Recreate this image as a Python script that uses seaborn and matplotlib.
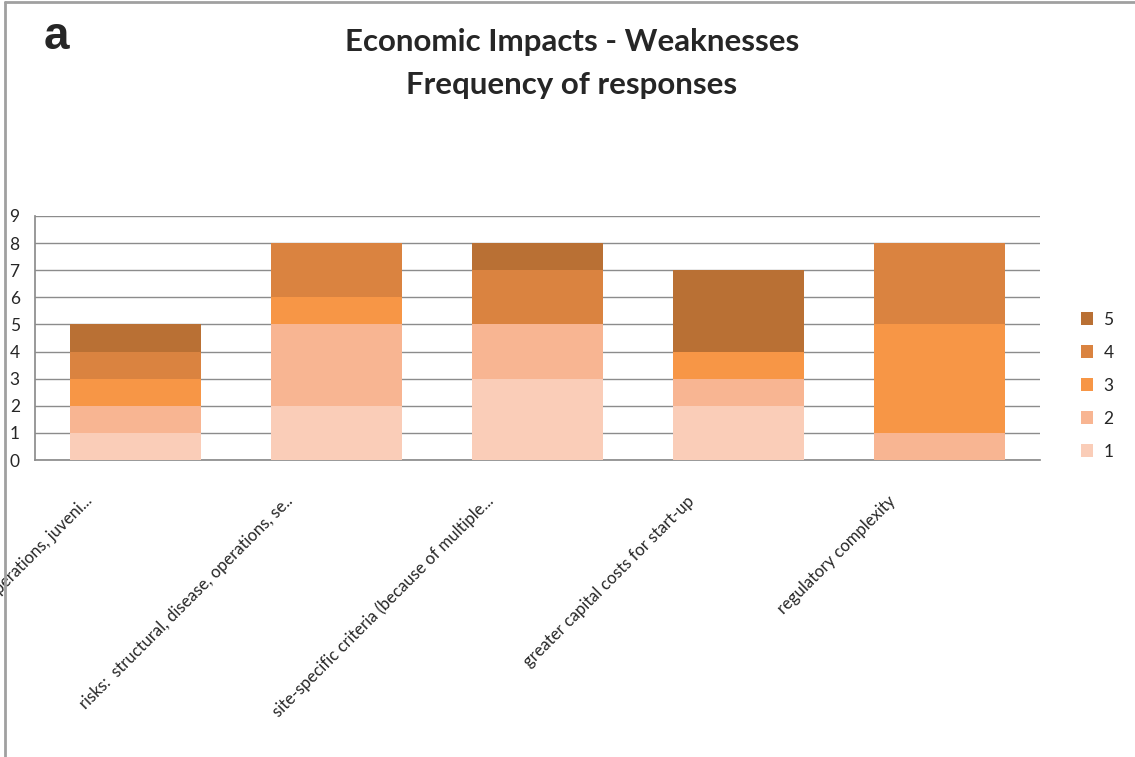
import numpy as np
import pandas as pd
import matplotlib
matplotlib.use("Agg")
import matplotlib.pyplot as plt
import matplotlib.transforms as mtransforms
from matplotlib.lines import Line2D
import seaborn as sns

categories = [
    "higher costs: infrastructure, operations, juveni...",
    "risks:  structural, disease, operations, se..",
    "site-specific criteria (because of multiple...",
    "greater capital costs for start-up",
    "regulatory complexity",
]
levels = ["1", "2", "3", "4", "5"]
resp_1 = [1, 2, 3, 2, 0]
resp_2 = [1, 3, 2, 1, 1]
resp_3 = [1, 1, 0, 1, 4]
resp_4 = [1, 2, 2, 0, 3]
resp_5 = [1, 0, 1, 3, 0]
colors = ["#FACDB8", "#F8B592", "#F79646", "#DA8340", "#B97034"]
yticks = list(range(0, 10))

sns.set_theme(style="white")
plt.rcParams["font.family"] = ["Lato", "DejaVu Sans"]

df = pd.DataFrame({"category": categories, "1": resp_1, "2": resp_2,
                   "3": resp_3, "4": resp_4, "5": resp_5})
cum = df[levels].cumsum(axis=1)

fig = plt.figure(figsize=(11.35, 7.57), dpi=100)
ax = fig.add_axes([35/1135, 1-460/757, (1040-35)/1135, (460-216)/757])

for lvl, col in reversed(list(zip(levels, colors))):
    d = pd.DataFrame({"category": categories, "value": cum[lvl]})
    sns.barplot(data=d, x="category", y="value", color=col, ax=ax,
                width=0.65, saturation=1, linewidth=0, label=lvl, zorder=3)

ax.set_ylim(0, 9)
ax.set_xlim(-0.5, 4.5)
ax.set_yticks(yticks)
ax.set_yticklabels([str(t) for t in yticks], fontsize=12.5)
ax.yaxis.grid(True, color="#8C8C8C", linewidth=1.0, zorder=0)
ax.set_axisbelow(True)
ax.set_xlabel("")
ax.set_ylabel("")
for s in ["top", "right"]:
    ax.spines[s].set_visible(False)
ax.spines["left"].set_color("#8C8C8C")
ax.spines["bottom"].set_color("#8C8C8C")
ax.tick_params(axis="y", length=0, pad=11)
ax.tick_params(axis="x", length=0)

ax.set_xticks(range(len(categories)))
ax.set_xticklabels(categories, rotation=45, ha="right", va="top",
                   rotation_mode="anchor", fontsize=12)
off = mtransforms.ScaledTranslation(-52/100, -28/100, fig.dpi_scale_trans)
for lab in ax.get_xticklabels():
    lab.set_transform(lab.get_transform() + off)

handles, labels = ax.get_legend_handles_labels()
leg = ax.legend(handles, labels, loc="center left", bbox_to_anchor=(1.025, 0.305),
                frameon=False, fontsize=12.5, handlelength=0.7, handleheight=0.7,
                labelspacing=0.98, handletextpad=0.6)

fig.text(572/1135, 1-42/757, "Economic Impacts - Weaknesses", ha="center",
         va="center", fontsize=22.5, fontweight="bold")
fig.text(572/1135, 1-85/757, "Frequency of responses", ha="center",
         va="center", fontsize=22.5, fontweight="bold")
fig.text(56/1135, 1-37/757, "a", ha="center", va="center", fontsize=33,
         fontweight="bold", family=["Liberation Sans", "DejaVu Sans"])

fig.add_artist(Line2D([5/1135, 5/1135], [0, 1-2/757], transform=fig.transFigure,
                      color="#A0A0A0", linewidth=2))
fig.add_artist(Line2D([5/1135, 1], [1-2/757, 1-2/757], transform=fig.transFigure,
                      color="#A0A0A0", linewidth=2))

fig.savefig("out.png", dpi=100)
